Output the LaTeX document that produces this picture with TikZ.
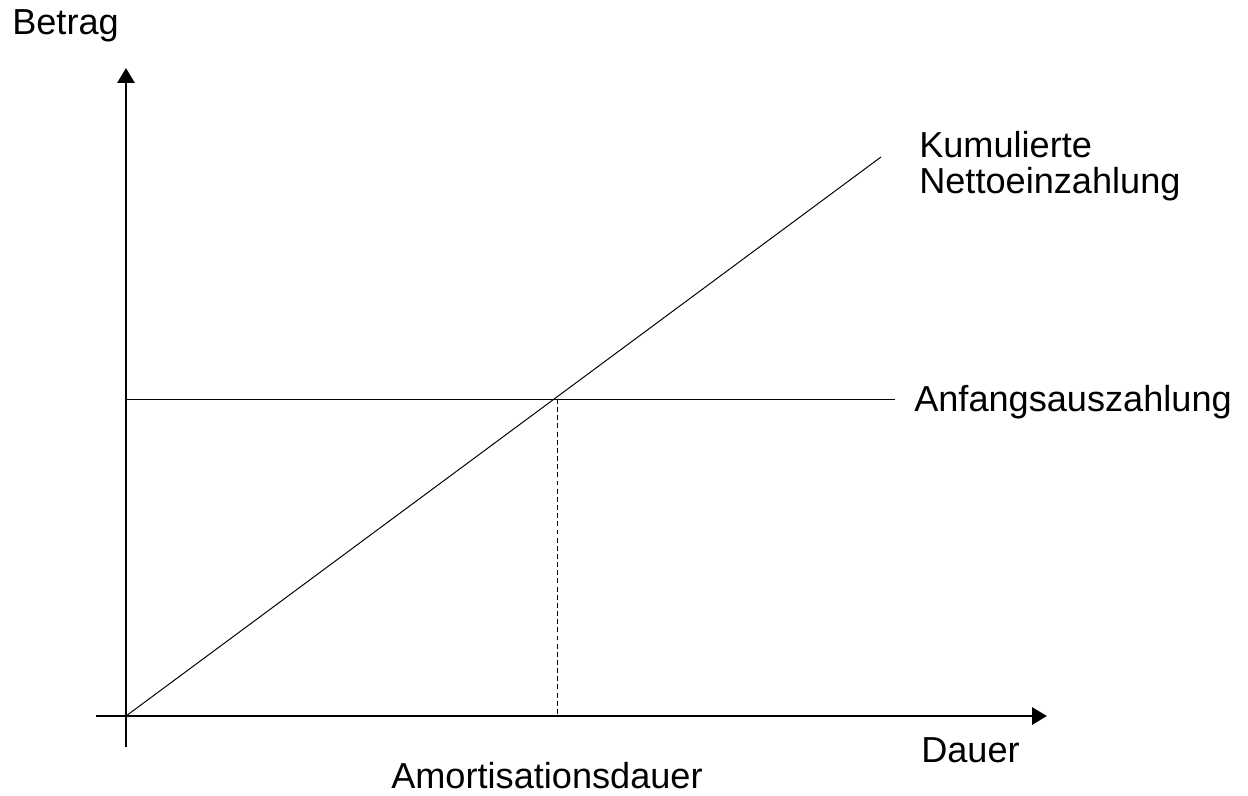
\documentclass[tikz,border=0pt]{standalone}
\usepackage{fontspec}
\setmainfont{Liberation Sans}
\usetikzlibrary{arrows.meta}

\begin{document}
\begin{tikzpicture}[x=0.025cm,y=-0.025cm,
  axis/.style={line width=2.1pt,-{Triangle[length=0.37cm,width=0.42cm]}},
  curve/.style={line width=0.7pt},
  lbl/.style={anchor=base west,inner sep=0pt,align=left,
    font=\fontsize{25.7}{25.6}\selectfont}]
\useasboundingbox (0,0) rectangle (1248,795);
% axes
\coordinate (O) at (126,716);
\coordinate (ybot) at (126,747);
\coordinate (ytop) at (126,68);
\coordinate (xleft) at (96,716);
\coordinate (xright) at (1047,716);
\draw [axis] (ybot) -- (ytop);
\draw [axis] (xleft) -- (xright);
% lines
\coordinate (kend) at (881,157);
\coordinate (astart) at (126,399);
\coordinate (aend) at (895,399);
\coordinate (S) at (557,399);
\coordinate (Sx) at (557,716);
\draw [curve] (O) -- (kend);
\draw [curve] (astart) -- (aend);
\draw [curve,dash pattern=on 3.5pt off 2.3pt] (S) -- (Sx);
% labels
\node [lbl] (betrag) at (12,35) {Betrag};
\node [lbl] (kum) at (919,193) {Kumulierte\\Nettoeinzahlung};
\node [lbl] (anf) at (914,411) {Anfangsauszahlung};
\node [lbl] (dauer) at (921,762) {Dauer};
\node [lbl] (amort) at (391,788) {Amortisationsdauer};
\end{tikzpicture}
\end{document}
